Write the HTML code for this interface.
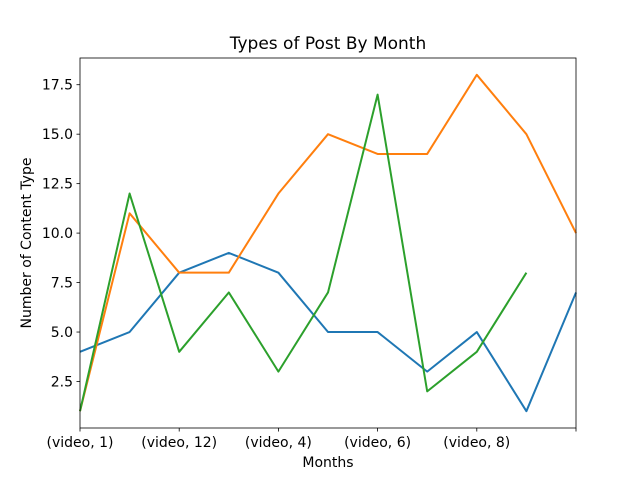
<!DOCTYPE html>
<html><head><meta charset="utf-8"><style>
body{margin:0;background:#fff;font-family:"DejaVu Sans","Liberation Sans",sans-serif}
svg text{font-family:"DejaVu Sans","Liberation Sans",sans-serif;fill:#000}
</style></head><body>
<svg id="chart" width="640" height="480">
<rect width="640" height="480" fill="#fff"/>
<text x="328" y="49" font-size="17" text-anchor="middle">Types of Post By Month</text>
<text x="328" y="467" font-size="14" text-anchor="middle">Months</text>
<text transform="translate(31,243) rotate(-90)" font-size="14" text-anchor="middle">Number of Content Type</text>
<g id="marks"></g>
<rect x="80" y="58" width="496" height="370" fill="none" stroke="#000" stroke-width="0.8"/>
</svg>
<script>
const xTickIdx=[0,2,4,6,8,10];
const xTickLabels=["(video, 1)","(video, 12)","(video, 4)","(video, 6)","(video, 8)",""];
const yTicks=[2.5,5.0,7.5,10.0,12.5,15.0,17.5];
const blueVals=[4,5,8,9,8,5,5,3,5,1,7];
const orangeVals=[1,11,8,8,12,15,14,14,18,15,10];
const greenVals=[1,12,4,7,3,7,17,2,4,8];
const NS="http://www.w3.org/2000/svg";
const X0=80,X1=576,Y0=428,Y1=58,XMIN=0,XMAX=10,YMIN=0.15,YMAX=18.85;
const sx=i=>X0+(i-XMIN)/(XMAX-XMIN)*(X1-X0);
const sy=v=>Y0-(v-YMIN)/(YMAX-YMIN)*(Y0-Y1);
const g=document.getElementById('marks');
function mk(t,a){const e=document.createElementNS(NS,t);for(const k in a)e.setAttribute(k,a[k]);g.appendChild(e);return e;}
xTickIdx.forEach((i,k)=>{
 const l=mk('line',{x1:sx(i),x2:sx(i),y1:Y0,y2:Y0+3.5,stroke:'#000','stroke-width':0.8});
 
 
 const t=mk('text',{x:sx(i),y:Y0+19,'font-size':14,'text-anchor':'middle'});
 t.textContent=xTickLabels[k];
 
 
});
yTicks.forEach(v=>{
 const l=mk('line',{x1:X0-3.5,x2:X0,y1:sy(v),y2:sy(v),stroke:'#000','stroke-width':0.8});
 
 
 const t=mk('text',{x:X0-7,y:sy(v)+5,'font-size':14,'text-anchor':'end'});
 t.textContent=v.toFixed(1);
 
 
});
[[blueVals,'#1f77b4','series-blue-line'],[orangeVals,'#ff7f0e','series-orange-line'],[greenVals,'#2ca02c','series-green-line']].forEach(([vals,c,n])=>{
 const p=mk('polyline',{points:vals.map((v,i)=>sx(i)+','+sy(v)).join(' '),fill:'none',stroke:c,'stroke-width':2,'stroke-linejoin':'round'});
 
 
});
</script>
</body></html>
